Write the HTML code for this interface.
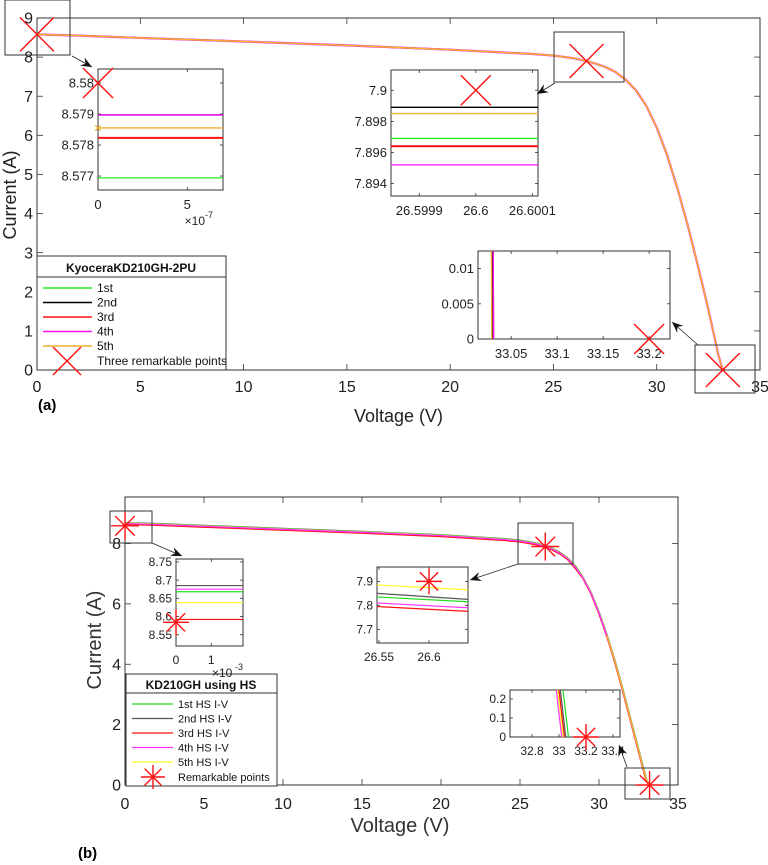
<!DOCTYPE html>
<html><head><meta charset="utf-8">
<style>
html,body{margin:0;padding:0;background:#fff;}
svg{display:block;font-family:"Liberation Sans",sans-serif;}
</style></head>
<body>
<svg id="fig" width="768" height="865" viewBox="0 0 768 865" xmlns="http://www.w3.org/2000/svg"></svg>
<script>
// ===== Chart (a) data =====
const voltageA = [0, 2, 5, 10, 15, 20, 24, 25, 26, 26.6, 27, 27.5, 28, 28.5, 29, 29.5, 30, 30.5, 31, 31.5, 32, 32.5, 33, 33.2];
const currentA = [8.58, 8.55, 8.49, 8.40, 8.30, 8.19, 8.08, 8.04, 7.97, 7.90, 7.84, 7.75, 7.62, 7.42, 7.15, 6.75, 6.20, 5.50, 4.65, 3.70, 2.65, 1.55, 0.35, 0];
const xTicksA = [0, 5, 10, 15, 20, 25, 30, 35];
const yTicksA = [0, 1, 2, 3, 4, 5, 6, 7, 8, 9];
const seriesNamesA = ["1st", "2nd", "3rd", "4th", "5th"];
const remarkVA = [0, 26.6, 33.2];
const remarkIA = [8.58, 7.9, 0];
// inset 1 (a)
const insetA1Vals = [8.57694, 8.57897, 8.57823, 8.57897, 8.57855];
const insetA1YTicks = [8.577, 8.578, 8.579, 8.58];
const insetA1XTicks = [0, 5];
// inset 2 (a)
const insetA2Vals = [7.8969, 7.8989, 7.8964, 7.8952, 7.8985];
const insetA2YTicks = [7.894, 7.896, 7.898, 7.9];
const insetA2XTicks = [26.5999, 26.6, 26.6001];
// inset 3 (a)
const insetA3Zero = [33.030, 33.030, 33.031, 33.031, 33.029];
const insetA3YTicks = [0, 0.005, 0.01];
const insetA3XTicks = [33.05, 33.1, 33.15, 33.2];

// ===== Chart (b) data =====
const voltageB = [0, 2, 5, 10, 15, 20, 24, 25, 26, 26.6, 27, 27.5, 28, 28.5, 29, 29.5, 30, 30.5, 31, 31.5, 32, 32.5, 33, 33.2];
const currentB = [8.66, 8.63, 8.57, 8.47, 8.37, 8.26, 8.13, 8.08, 7.99, 7.90, 7.82, 7.69, 7.50, 7.22, 6.85, 6.35, 5.70, 4.95, 4.10, 3.15, 2.15, 1.15, 0.15, 0];
const xTicksB = [0, 5, 10, 15, 20, 25, 30, 35];
const yTicksB = [0, 2, 4, 6, 8];
const seriesNamesB = ["1st HS I-V", "2nd HS I-V", "3rd HS I-V", "4th HS I-V", "5th HS I-V"];
const remarkVB = [0, 26.6, 33.2];
const remarkIB = [8.584, 7.9, 0];
const insetB1Vals = [8.668, 8.685, 8.592, 8.675, 8.638];
const insetB1YTicks = [8.55, 8.6, 8.65, 8.7, 8.75];
const insetB1XTicks = [0, 1];
const insetB2Start = [7.835, 7.850, 7.795, 7.810, 7.885];
const insetB2End = [7.815, 7.825, 7.775, 7.790, 7.865];
const insetB2YTicks = [7.7, 7.8, 7.9];
const insetB2XTicks = [26.55, 26.6];
const insetB3Zero = [33.07, 33.05, 33.04, 33.02, 33.03];
const insetB3YTicks = [0, 0.1, 0.2];
const insetB3XTicks = [32.8, 33, 33.2, 33.4];

const colA = ["#22ee22", "#000000", "#ff1111", "#ff11ff", "#f0b030"];
const colB = ["#22dd22", "#555555", "#ff1111", "#ff33ff", "#ffff22"];

const NS = "http://www.w3.org/2000/svg";
const svg = document.getElementById("fig");
function mk(tag, attrs, parent) {
  const e = document.createElementNS(NS, tag);
  for (const k in attrs) e.setAttribute(k, attrs[k]);
  (parent || svg).appendChild(e);
  return e;
}
function txt(s, x, y, size, anchor, parent, extra) {
  const t = mk("text", Object.assign({x: x, y: y, "font-size": size, "text-anchor": anchor || "middle", fill: "#222"}, extra || {}), parent);
  t.textContent = s;
  return t;
}
function scale(d0, d1, r0, r1) { return v => r0 + (v - d0) * (r1 - r0) / (d1 - d0); }
function drawX(cx, cy, h, parent) {
  const g = mk("g", {}, parent);
  
  
  mk("line", {x1: cx - h, y1: cy - h, x2: cx + h, y2: cy + h, stroke: "#ff1111", "stroke-width": 1.4}, g);
  mk("line", {x1: cx - h, y1: cy + h, x2: cx + h, y2: cy - h, stroke: "#ff1111", "stroke-width": 1.4}, g);
}
function drawStar(cx, cy, h, parent) {
  const g = mk("g", {}, parent);
  
  
  const d = h * 0.7;
  mk("line", {x1: cx - h, y1: cy, x2: cx + h, y2: cy, stroke: "#ff1111", "stroke-width": 1.4}, g);
  mk("line", {x1: cx, y1: cy - h, x2: cx, y2: cy + h, stroke: "#ff1111", "stroke-width": 1.4}, g);
  mk("line", {x1: cx - d, y1: cy - d, x2: cx + d, y2: cy + d, stroke: "#ff1111", "stroke-width": 1.4}, g);
  mk("line", {x1: cx - d, y1: cy + d, x2: cx + d, y2: cy - d, stroke: "#ff1111", "stroke-width": 1.4}, g);
}
function frame(x0, y0, x1, y1, name, parent) {
  const r = mk("rect", {x: x0, y: y0, width: x1 - x0, height: y1 - y0, fill: "#fff", stroke: "#333", "stroke-width": 1}, parent);
  
  
  return r;
}
function box(x0, y0, x1, y1, name) {
  const r = mk("rect", {x: x0, y: y0, width: x1 - x0, height: y1 - y0, fill: "none", stroke: "#333", "stroke-width": 1});
  
  
}
function arrow(x1, y1, x2, y2, name) {
  const g = mk("g", {});
  
  
  mk("line", {x1: x1, y1: y1, x2: x2, y2: y2, stroke: "#222", "stroke-width": 0.8}, g);
  const a = Math.atan2(y2 - y1, x2 - x1), L = 12, w = 0.4;
  const p = [[x2, y2], [x2 - L * Math.cos(a - w), y2 - L * Math.sin(a - w)], [x2 - L * 0.6 * Math.cos(a), y2 - L * 0.6 * Math.sin(a)], [x2 - L * Math.cos(a + w), y2 - L * Math.sin(a + w)]];
  mk("polygon", {points: p.map(q => q.join(",")).join(" "), fill: "#111"}, g);
}
function polyline(xs, ys, sx, sy, color, w, name, parent) {
  const pts = xs.map((v, i) => sx(v).toFixed(2) + "," + sy(ys[i]).toFixed(2)).join(" ");
  const p = mk("polyline", {points: pts, fill: "none", stroke: color, "stroke-width": w}, parent);
  
  
}
function axesTicks(sx, sy, x0, y0, x1, y1, xt, yt, fs, xfmt, yfmt, tl, parent, yoff) {
  xt.forEach(v => {
    const x = sx(v);
    mk("line", {x1: x, y1: y1, x2: x, y2: y1 - tl, stroke: "#333", "stroke-width": 0.8}, parent);
    mk("line", {x1: x, y1: y0, x2: x, y2: y0 + tl, stroke: "#333", "stroke-width": 0.8}, parent);
    const t = txt(xfmt(v), x, y1 + fs + (yoff || 4), fs, "middle", parent);
    
    
  });
  yt.forEach(v => {
    const y = sy(v);
    mk("line", {x1: x0, y1: y, x2: x0 + tl, y2: y, stroke: "#333", "stroke-width": 0.8}, parent);
    mk("line", {x1: x1, y1: y, x2: x1 - tl, y2: y, stroke: "#333", "stroke-width": 0.8}, parent);
    const t = txt(yfmt(v), x0 - 4, y + fs * 0.35, fs, "end", parent);
    
    
  });
}
const S = v => String(v);

// ================= CHART (a) =================
(function () {
  const g = mk("g", {});
  
  
  const X0 = 37, X1 = 760, Y0 = 18, Y1 = 370;
  const sx = scale(0, 35, X0, X1), sy = scale(0, 9, Y1, Y0);
  frame(X0, Y0, X1, Y1, "plot-area-a", g);
  axesTicks(sx, sy, X0, Y0, X1, Y1, xTicksA, yTicksA, 16, S, S, 6, g, 6);
  const cs = [0, 1, 2, 3, 4];
  cs.forEach(i => polyline(voltageA, currentA, sx, sy, colA[i], i === 3 ? 2.2 : 1.6, "curve-a-" + seriesNamesA[i], g));
  remarkVA.forEach((v, i) => drawX(sx(v), sy(remarkIA[i]), 17, g));
  const xl = txt("Voltage (V)", (X0 + X1) / 2, 422, 18, "middle", g);
   
  const yl = txt("Current (A)", 0, 0, 18, "middle", g, {transform: "translate(16," + 195 + ") rotate(-90)"});
   
  const lab = txt("(a)", 38, 410, 15, "start", g, {"font-weight": "bold", fill: "#000"});
   

  // inset 1
  {
    const ix0 = 98, ix1 = 223, iy0 = 69, iy1 = 190;
    const isx = scale(0, 7e-7, ix0, ix1), isy = scale(8.57655, 8.58045, iy1, iy0);
    frame(ix0, iy0, ix1, iy1, "inset-a1", g);
    axesTicks(v => isx(v * 1e-7), isy, ix0, iy0, ix1, iy1, insetA1XTicks, insetA1YTicks, 13, S, S, 3, g, 6);
    [1, 3, 4, 2, 0].forEach(i => polyline([0, 7e-7], [insetA1Vals[i], insetA1Vals[i]], isx, isy, colA[i], i === 2 ? 2 : 1.3, "inset-a1-" + seriesNamesA[i], g));
    txt("\u00d710", 205, 225, 12, "end", g);
    txt("-7", 205, 218, 9, "start", g);
    txt("\u2715", isx(0), isy(insetA1Vals[4]) + 4, 11, "middle", g, {fill: colA[4]});
    drawX(isx(0), isy(8.58), 15, g);
  }
  // inset 2
  {
    const ix0 = 391, ix1 = 538, iy0 = 70, iy1 = 196;
    const isx = scale(26.59985, 26.60011, ix0, ix1), isy = scale(7.8932, 7.9013, iy1, iy0);
    frame(ix0, iy0, ix1, iy1, "inset-a2", g);
    axesTicks(isx, isy, ix0, iy0, ix1, iy1, insetA2XTicks, insetA2YTicks, 13, S, S, 3, g, 6);
    [0, 2, 3, 4, 1].forEach(i => polyline([26.59985, 26.60011], [insetA2Vals[i], insetA2Vals[i]], isx, isy, colA[i], i === 2 ? 2 : 1.3, "inset-a2-" + seriesNamesA[i], g));
    drawX(isx(26.6), isy(7.9), 15, g);
  }
  // inset 3
  {
    const ix0 = 478, ix1 = 670, iy0 = 251, iy1 = 339;
    const isx = scale(33.014, 33.2227, ix0, ix1), isy = scale(0, 0.0125, iy1, iy0);
    frame(ix0, iy0, ix1, iy1, "inset-a3", g);
    axesTicks(isx, isy, ix0, iy0, ix1, iy1, insetA3XTicks, insetA3YTicks, 13, S, S, 3, g, 6);
    [0, 1, 4, 2, 3].forEach(i => polyline([insetA3Zero[i] - 0.0005, insetA3Zero[i]], [0.0125, 0], isx, isy, colA[i], 1.3, "inset-a3-" + seriesNamesA[i], g));
    drawX(isx(33.2), isy(0), 15, g);
  }
  // legend
  {
    const lg = mk("g", {}, g);
    
    
    mk("rect", {x: 37, y: 256, width: 189, height: 114, fill: "#fff", stroke: "#333", "stroke-width": 1}, lg);
    mk("line", {x1: 37, y1: 277, x2: 226, y2: 277, stroke: "#333", "stroke-width": 1}, lg);
    txt("KyoceraKD210GH-2PU", 131, 272, 12, "middle", lg, {"font-weight": "bold", fill: "#111"});
    seriesNamesA.forEach((n, i) => {
      const y = 288 + i * 14.5;
      const e = mk("g", {}, lg);
      
      
      mk("line", {x1: 43, y1: y, x2: 92, y2: y, stroke: colA[i], "stroke-width": 1.6}, e);
      txt(n, 97, y + 4, 12, "start", e, {fill: "#111"});
    });
    txt("Three remarkable points", 97, 365, 12, "start", lg, {fill: "#111"});
    drawX(67, 361, 14, lg);
  }
})();
box(5, 0, 70, 55, "zoom-box-a1");
box(554, 32, 624, 82, "zoom-box-a2");
box(695, 345, 755, 393, "zoom-box-a3");
arrow(72, 56, 92, 67, "arrow-a1");
arrow(555, 83, 537, 94, "arrow-a2");
arrow(698, 345, 672, 322, "arrow-a3");

// ================= CHART (b) =================
(function () {
  const g = mk("g", {});
  
  
  const X0 = 125, X1 = 678, Y0 = 497, Y1 = 785;
  const sx = scale(0, 35, X0, X1), sy = scale(0, 9.54, Y1, Y0);
  frame(X0, Y0, X1, Y1, "plot-area-b", g);
  axesTicks(sx, sy, X0, Y0, X1, Y1, xTicksB, yTicksB, 16, S, S, 6, g, 8);
  const offs = [0.02, 0.03, -0.03, 0.0, 0.01];
  [1, 0, 4, 2, 3].forEach(i => polyline(voltageB.map(v => v + offs[i] * (v > 28 ? 1 : 0)), currentB.map(c => c + offs[i] * (c > 7 ? 1 : 0)), sx, sy, colB[i], 1.3, "curve-b-" + seriesNamesB[i], g));
  polyline(voltageB.slice(17), currentB.slice(17), sx, sy, "#f0b030", 1.3, "curve-b-overlay", g);
  remarkVB.forEach((v, i) => drawStar(sx(v), sy(remarkIB[i]), 14, g));
  const xl = txt("Voltage (V)", 400, 832, 20, "middle", g, {fill: "#333"});
   
  const yl = txt("Current (A)", 0, 0, 20, "middle", g, {transform: "translate(101,640) rotate(-90)", fill: "#333"});
   
  const lab = txt("(b)", 78, 858, 15, "start", g, {"font-weight": "bold", fill: "#000"});
   

  // inset 1
  {
    const ix0 = 176, ix1 = 243, iy0 = 559, iy1 = 646;
    const isx = scale(0, 1.9e-3, ix0, ix1), isy = scale(8.519, 8.758, iy1, iy0);
    frame(ix0, iy0, ix1, iy1, "inset-b1", g);
    axesTicks(v => isx(v * 1e-3), isy, ix0, iy0, ix1, iy1, insetB1XTicks, insetB1YTicks, 12, S, S, 3, g, 6);
    [0, 3, 1, 4, 2].forEach(i => polyline([0, 1.9e-3], [insetB1Vals[i], insetB1Vals[i]], isx, isy, colB[i], 1.2, "inset-b1-" + seriesNamesB[i], g));
    drawStar(isx(0), isy(8.584), 13, g);
  }
  // inset 2
  {
    const ix0 = 377, ix1 = 468, iy0 = 567, iy1 = 643;
    const isx = scale(26.548, 26.639, ix0, ix1), isy = scale(7.643, 7.96, iy1, iy0);
    frame(ix0, iy0, ix1, iy1, "inset-b2", g);
    axesTicks(isx, isy, ix0, iy0, ix1, iy1, insetB2XTicks, insetB2YTicks, 12, S, S, 3, g, 6);
    [4, 1, 0, 3, 2].forEach(i => polyline([26.548, 26.639], [insetB2Start[i], insetB2End[i]], isx, isy, colB[i], 1.2, "inset-b2-" + seriesNamesB[i], g));
    drawStar(isx(26.6), isy(7.9), 13, g);
  }
  // inset 3
  {
    const ix0 = 510, ix1 = 620, iy0 = 690, iy1 = 737;
    const isx = scale(32.637, 33.452, ix0, ix1), isy = scale(0, 0.247, iy1, iy0);
    frame(ix0, iy0, ix1, iy1, "inset-b3", g);
    axesTicks(isx, isy, ix0, iy0, ix1, iy1, insetB3XTicks, insetB3YTicks, 12, S, S, 3, g, 6);
    [4, 0, 1, 2, 3].forEach(i => polyline([insetB3Zero[i] - 0.04, insetB3Zero[i]], [0.247, 0], isx, isy, colB[i], 1.2, "inset-b3-" + seriesNamesB[i], g));
    drawStar(isx(33.2), isy(0), 13, g);
  }
  // legend
  {
    const lg = mk("g", {}, g);
    
    
    mk("rect", {x: 126, y: 674, width: 151, height: 112, fill: "#fff", stroke: "#333", "stroke-width": 1}, lg);
    mk("line", {x1: 126, y1: 693, x2: 277, y2: 693, stroke: "#333", "stroke-width": 1}, lg);
    txt("KD210GH using HS", 201, 689, 12, "middle", lg, {"font-weight": "bold", fill: "#111"});
    seriesNamesB.forEach((n, i) => {
      const y = 704 + i * 14.5;
      const e = mk("g", {}, lg);
      
      
      mk("line", {x1: 132, y1: y, x2: 173, y2: y, stroke: colB[i], "stroke-width": 1.2}, e);
      txt(n, 178, y + 4, 11, "start", e, {fill: "#111"});
    });
    txt("Remarkable points", 178, 781, 11, "start", lg, {fill: "#111"});
    drawStar(153, 777, 12, lg);
  }
  txt("\u00d710", 212, 677, 12, "start", g);
  txt("-3", 235, 670, 9, "start", g);
})();
box(110, 511, 152, 543, "zoom-box-b1");
box(518, 523, 573, 564, "zoom-box-b2");
box(625, 768, 670, 799, "zoom-box-b3");
arrow(152, 543, 182, 556, "arrow-b1");
arrow(518, 564, 470, 580, "arrow-b2");
arrow(627, 767, 619, 745, "arrow-b3");
</script>
</body></html>
